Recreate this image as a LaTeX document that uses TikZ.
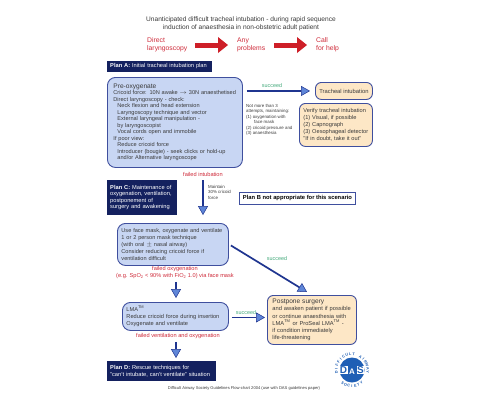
\documentclass[tikz,border=0pt]{standalone}
\usepackage{fontspec}
\setmainfont{Liberation Sans}
\usetikzlibrary{arrows.meta,calc}
\definecolor{navy}{HTML}{14215F}
\definecolor{boxedge}{HTML}{3F4F9E}
\definecolor{paleblue}{HTML}{C8D6F3}
\definecolor{peach}{HTML}{FDE7C6}
\definecolor{redtxt}{HTML}{CF2B3A}
\definecolor{redarrow}{HTML}{CE1F28}
\definecolor{greentxt}{HTML}{3FA878}
\definecolor{headblue}{HTML}{5F86D8}
\definecolor{shaft}{HTML}{1F3590}
\definecolor{logoblue}{HTML}{1F5FB5}
\definecolor{body}{HTML}{3A3A3A}
\newcommand{\fs}[2]{\fontsize{#1}{#2}\selectfont}
\tikzset{
  x=1pt,y=-1pt,
  txt/.style={inner sep=0,text=body,align=left},
  plainbox/.style={rounded corners=6,draw=boxedge,line width=0.9,inner sep=0,anchor=north west,align=left,text=body},
  bluebox/.style={plainbox,fill=paleblue},
  peachbox/.style={plainbox,fill=peach},
  navybox/.style={draw=none,fill=navy,text=white,inner sep=0,anchor=north west,align=left},
  redlabel/.style={inner sep=0,text=redtxt,align=center,font=\fs{5.65}{7}},
  greenlabel/.style={inner sep=0,text=greentxt,font=\fs{5.4}{7}},
  flow/.style={draw=shaft,line width=1.7,-{Triangle[length=9,width=10,fill=headblue,line width=0.5]}},
  bigred/.style={draw=redarrow,line width=5,-{Triangle[length=10,width=16,fill=redarrow,line width=0]}}
}
\begin{document}
\begin{tikzpicture}
\useasboundingbox (0,0) rectangle (480,400);
\fill[white] (0,0) rectangle (480,400);

\node[inner sep=0,align=center,text=body,font=\fs{6.6}{8.3}] (title) at (241,24)
  {Unanticipated difficult tracheal intubation - during rapid sequence\\induction of anaesthesia in non-obstetric adult patient};

\node[inner sep=0,anchor=west,text=redtxt,align=left,font=\fs{6.8}{7.8}] (direct) at (147,45) {Direct\\laryngoscopy};
\node[inner sep=0,anchor=west,text=redtxt,align=left,font=\fs{6.8}{7.8}] (anyp) at (237,45) {Any\\problems};
\node[inner sep=0,anchor=west,text=redtxt,align=left,font=\fs{6.8}{7.8}] (callh) at (316,45) {Call\\for help};
\draw[bigred] ([xshift=8]direct.east) -- ([xshift=-9]anyp.west);
\draw[bigred] ([xshift=9]anyp.east) -- ([xshift=-9]callh.west);

\node[navybox,text width=105,minimum height=11.5,font=\fs{5.7}{7}] (planA) at (107,60.5)
  {\hspace*{3pt}\textbf{Plan A:} Initial tracheal intubation plan};

\node[bluebox,text width=135,minimum height=90,rounded corners=8,font=\fs{5.6}{6.5}] (preox) at (107,77)
  {\hspace*{6pt}{\fs{6.6}{7.4}Pre-oxygenate}\\
   \hspace*{6pt}Cricoid force: 10N awake $\rightarrow$ 30N anaesthetised\\
   \hspace*{6pt}Direct laryngoscopy - check:\\
   \hspace*{10pt}Neck flexion and head extension\\
   \hspace*{10pt}Laryngoscopy technique and vector\\
   \hspace*{10pt}External laryngeal manipulation -\\
   \hspace*{10pt}by laryngoscopist\\
   \hspace*{10pt}Vocal cords open and immobile\\
   \hspace*{6pt}If poor view:\\
   \hspace*{10pt}Reduce cricoid force\\
   \hspace*{10pt}Introducer (bougie) - seek clicks or hold-up\\
   \hspace*{10pt}and/or Alternative laryngoscope};

\node[peachbox,minimum width=57,minimum height=17,font=\fs{5.8}{7},align=center] (trach) at (315,82) {Tracheal intubation};
\node[peachbox,text width=73,minimum height=43,font=\fs{5.65}{7}] (verify) at (299,103)
  {\hspace*{4pt}Verify tracheal intubation\\
   \hspace*{4pt}(1) Visual, if possible\\
   \hspace*{4pt}(2) Capnograph\\
   \hspace*{4pt}(3) Oesophageal detector\\
   \hspace*{4pt}"If in doubt, take it out"};

\draw[flow] (preox.east |- trach.west) ++(4,0) coordinate (s1) -- ([xshift=-5]trach.west);
\node[greenlabel,anchor=base] (succ1) at (272,87) {succeed};

\node[txt,anchor=north west,font=\fs{4.4}{5.5}] (attempts) at (246,104)
  {Not more than 3\\attempts, maintaining:\\(1) oxygenation with\\\hspace*{8pt}face mask\\(2) cricoid pressure and\\(3) anaesthesia};

\node[redlabel] (failint) at (203,174) {failed intubation};

\node[navybox,text width=70,minimum height=35,font=\fs{5.7}{6.5}] (planC) at (107,180)
  {\hspace*{3pt}\textbf{Plan C:} Maintenance of\\\hspace*{3pt}oxygenation, ventilation,\\\hspace*{3pt}postponement of\\\hspace*{3pt}surgery and awakening};

\node[txt,anchor=north west,font=\fs{4.4}{5.5}] (maintain) at (208,185) {Maintain\\30\% cricoid\\force};

\node[draw=boxedge,line width=0.9,fill=white,minimum width=116,minimum height=12,inner sep=0,anchor=north west,text=black,font=\bfseries\fs{5.8}{7}] (planB) at (239,192)
  {Plan B not appropriate for this scenario};

\node[bluebox,text width=111,minimum height=42,rounded corners=8,font=\fs{5.6}{6.9}] (mask) at (117,223)
  {\hspace*{4pt}Use face mask, oxygenate and ventilate\\
   \hspace*{4pt}1 or 2 person mask technique\\
   \hspace*{4pt}(with oral $\pm$ nasal airway)\\
   \hspace*{4pt}Consider reducing cricoid force if\\
   \hspace*{4pt}ventilation difficult};

\draw[flow] (failint.south) ++(0,4) coordinate (s2) -- ($(s2 |- mask.north)+(0,-8)$);

\node[redlabel] (failoxy) at (175,272.5)
  {failed oxygenation\\(e.g. SpO\textsubscript{2} < 90\% with FiO\textsubscript{2} 1.0) via face mask};

\node[bluebox,text width=106,minimum height=28,rounded corners=8,font=\fs{5.65}{7}] (lma) at (122,302)
  {\hspace*{4pt}LMA\textsuperscript{TM}\\\hspace*{4pt}Reduce cricoid force during insertion\\\hspace*{4pt}Oxygenate and ventilate};

\draw[flow] (failoxy.south) ++(1,3) coordinate (s3) -- ($(s3 |- lma.north)+(0,-4)$);

\node[redlabel] (failvent) at (178,336) {failed ventilation and oxygenation};

\node[navybox,text width=109,minimum height=20,font=\fs{5.7}{7}] (planD) at (107,361)
  {\hspace*{3pt}\textbf{Plan D:} Rescue techniques for\\\hspace*{3pt}"can't intubate, can't ventilate" situation};

\draw[flow] (failvent.south) ++(-2,3) coordinate (s4) -- ($(s4 |- planD.north)+(0,-3)$);

\node[peachbox,text width=89,minimum height=49,font=\fs{5.75}{7.1}] (post) at (267,295)
  {\hspace*{5pt}{\fs{6.6}{7.5}Postpone surgery}\\
   \hspace*{5pt}and awaken patient if possible\\
   \hspace*{5pt}or continue anaesthesia with\\
   \hspace*{5pt}LMA\textsuperscript{TM} or ProSeal LMA\textsuperscript{TM} -\\
   \hspace*{5pt}if condition immediately\\
   \hspace*{5pt}life-threatening};

\coordinate (s5) at ($(lma.east)+(3,1)$);
\draw[flow] (s5) -- ($(post.west |- s5)+(-2,0)$);
\node[greenlabel,anchor=base] (succ2) at (246,314) {succeed};

\coordinate (s6) at ($(mask.east)+(2,1)$);
\draw[flow] (s6) -- ($(post.north west)+(40,-3)$);
\node[greenlabel,anchor=base] (succ3) at (277,260.5) {succeed};

\node[inner sep=0,text=body,font=\fs{4.1}{5}] (foot) at (244,388.5)
  {Difficult Airway Society Guidelines Flow-chart 2004 (use with DAS guidelines paper)};

% DAS logo
\node[circle,fill=logoblue,minimum size=25,inner sep=0] (logo) at (352,370) {};
\node[inner sep=0.4,fill=white,text=logoblue,font=\bfseries\fs{10}{10}] (logoD) at (343.5,370) {D};
\node[inner sep=0,text=white,font=\bfseries\fs{8}{8}] (logoA) at (352,372) {A};
\node[inner sep=0.4,fill=white,text=logoblue,font=\bfseries\fs{10}{10}] (logoS) at (360.5,370) {S};
\foreach \ch [count=\i] in {D,I,F,F,I,C,U,L,T,{ },A,I,R,W,A,Y}{
  \pgfmathsetmacro{\ang}{188-(\i-1)*196/15}
  \node[inner sep=0,text=logoblue,font=\bfseries\fs{3.8}{3.8},rotate=\ang-90] (top\i) at ({352+15.8*cos(\ang)},{370-15.8*sin(\ang)}) {\ch};
}
\foreach \ch [count=\i] in {S,O,C,I,E,T,Y}{
  \pgfmathsetmacro{\ang}{234+(\i-1)*12}
  \node[inner sep=0,text=logoblue,font=\bfseries\fs{3.8}{3.8},rotate=\ang+90] (bot\i) at ({352+15.8*cos(\ang)},{370-15.8*sin(\ang)}) {\ch};
}
\end{tikzpicture}
\end{document}
